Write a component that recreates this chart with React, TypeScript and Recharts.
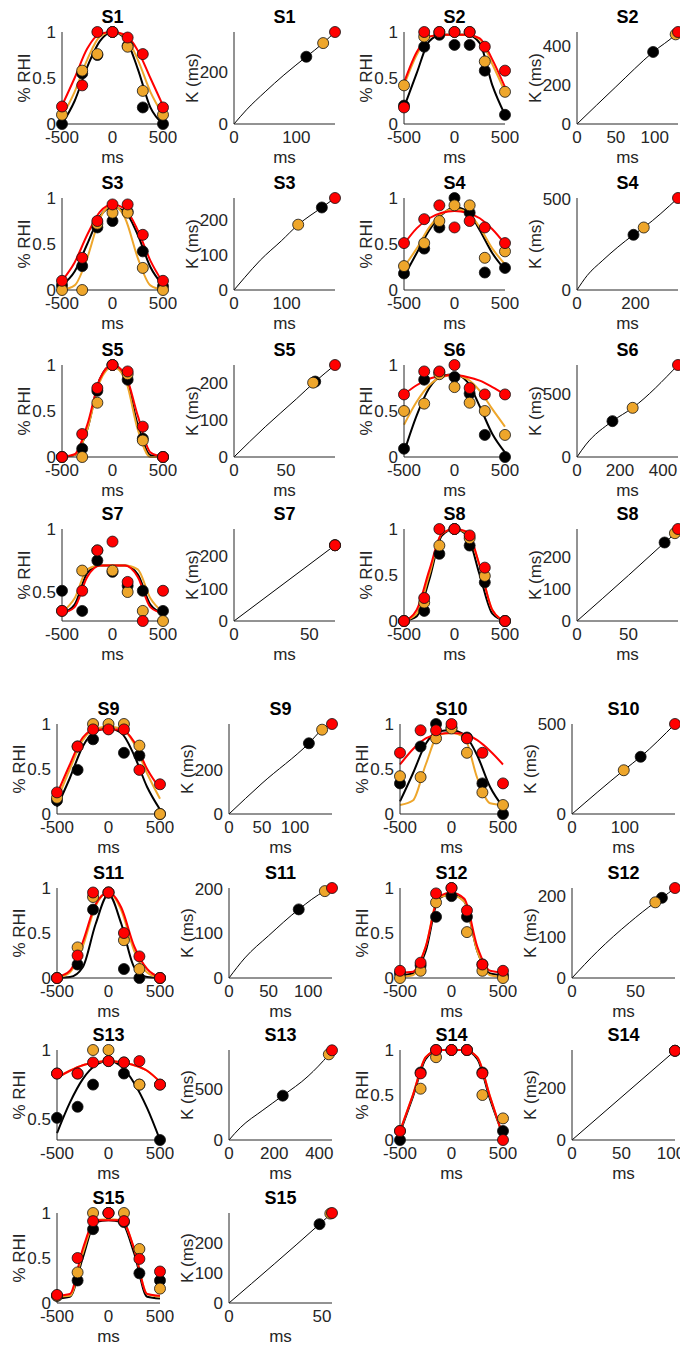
import { ComposedChart, Line, Scatter, XAxis, YAxis } from 'recharts';

// stimulus offsets (ms) where the dots sit, and where the fitted curves were read
const dotX = [-500, -300, -150, 0, 150, 300, 500];
const fitX = [-500, -375, -250, -125, 0, 125, 250, 375, 500];

const subjects = ['S1', 'S2', 'S3', 'S4', 'S5', 'S6', 'S7', 'S8', 'S9', 'S10', 'S11', 'S12', 'S13', 'S14', 'S15'];

// % RHI dots, one row per subject
const blackDots = [
  [0, 0.55, 0.75, 1, 0.85, 0.18, 0],
  [0.2, 0.84, 0.97, 0.86, 0.86, 0.58, 0.1],
  [0.05, 0.26, 0.68, 0.75, 0.85, 0.42, 0.04],
  [0.18, 0.45, 0.68, 1.0, 0.84, 0.19, 0.24],
  [0, 0.09, 0.72, 1, 0.84, 0.2, 0],
  [0.09, 0.84, 0.92, 0.87, 0.69, 0.24, 0],
  [0.51, 0.35, 0.75, 0.66, 0.55, 0.51, 0.35],
  [0, 0.11, 0.73, 1, 0.82, 0.42, 0],
  [0.15, 0.49, 0.83, 0.95, 0.68, 0.65, 0],
  [0.34, 0.75, 1, 0.96, 0.85, 0.34, 0],
  [0, 0.15, 0.76, 0.95, 0.1, 0, 0],
  [0.05, 0.14, 0.68, 0.91, 0.68, 0.15, 0.03],
  [0.51, 0.59, 0.75, 0.92, 0.83, 0.75, 0.35],
  [0, 0.75, 1, 1, 1, 0.75, 0.1],
  [0.08, 0.25, 0.82, 1, 0.9, 0.33, 0.25],
];
const orangeDots = [
  [0.1, 0.58, 0.76, 1, 0.84, 0.36, 0.1],
  [0.42, 0.95, 1, 1, 1, 0.68, 0.35],
  [0, 0, 0.72, 0.84, 0.84, 0.24, 0],
  [0.26, 0.51, 0.75, 0.92, 0.92, 0.35, 0.42],
  [0, 0, 0.59, 1, 0.9, 0.18, 0],
  [0.5, 0.58, 0.9, 0.76, 0.59, 0.5, 0.24],
  [0.35, 0.67, 0.83, 0.67, 0.5, 0.35, 0.27],
  [0, 0.2, 0.82, 1, 0.9, 0.49, 0],
  [0.18, 0.75, 1, 1, 1, 0.76, 0],
  [0.42, 0.41, 0.84, 0.95, 0.68, 0.24, 0.1],
  [0, 0.34, 0.9, 0.95, 0.42, 0.1, 0],
  [0, 0.08, 0.84, 1, 0.51, 0.08, 0],
  [0.83, 0.83, 1, 1, 0.91, 0.75, 0.75],
  [0.1, 0.57, 0.92, 1, 1, 0.5, 0.24],
  [0.08, 0.34, 1, 1, 1, 0.6, 0.16],
];
const redDots = [
  [0.19, 0.42, 1, 1, 0.94, 0.76, 0.18],
  [0.18, 1, 1, 1, 1, 0.84, 0.58],
  [0.1, 0.35, 0.75, 0.93, 0.93, 0.6, 0.1],
  [0.51, 0.77, 0.92, 0.68, 0.75, 0.68, 0.51],
  [0, 0.25, 0.75, 1, 0.93, 0.33, 0],
  [0.68, 0.93, 0.93, 1, 0.75, 0.68, 0.68],
  [0.35, 0.51, 0.83, 0.9, 0.58, 0.27, 0.51],
  [0, 0.25, 1, 1, 0.93, 0.58, 0],
  [0.24, 0.75, 0.94, 0.94, 0.94, 0.49, 0.33],
  [0.68, 0.93, 0.93, 1, 0.84, 0.68, 0.34],
  [0, 0.25, 0.95, 0.95, 0.5, 0.24, 0],
  [0.08, 0.17, 0.94, 1, 0.75, 0.15, 0.08],
  [0.83, 0.83, 0.91, 0.92, 0.91, 0.92, 0.75],
  [0.1, 0.74, 1, 1, 1, 0.74, 0],
  [0.09, 0.5, 0.91, 1, 0.91, 0.49, 0.35],
];

// fitted curves, read at fitX
const blackFit = [
  [0, 0.25, 0.62, 0.9, 1, 0.93, 0.6, 0.18, 0],
  [0.18, 0.55, 0.9, 0.97, 0.97, 0.97, 0.88, 0.42, 0.1],
  [0.05, 0.2, 0.5, 0.8, 0.9, 0.85, 0.6, 0.25, 0.05],
  [0.15, 0.4, 0.65, 0.82, 0.9, 0.86, 0.65, 0.4, 0.22],
  [0, 0.02, 0.3, 0.85, 1, 0.88, 0.35, 0.02, 0],
  [0.05, 0.45, 0.75, 0.88, 0.9, 0.82, 0.55, 0.25, 0.05],
  [0.33, 0.4, 0.65, 0.71, 0.71, 0.71, 0.64, 0.4, 0.33],
  [0, 0.05, 0.45, 0.93, 1, 0.93, 0.5, 0.08, 0],
  [0.08, 0.4, 0.75, 0.92, 0.95, 0.9, 0.65, 0.3, 0.05],
  [0.14, 0.45, 0.78, 0.92, 0.93, 0.88, 0.65, 0.3, 0.08],
  [0, 0.01, 0.12, 0.6, 0.93, 0.6, 0.12, 0.01, 0],
  [0.03, 0.05, 0.3, 0.88, 0.93, 0.85, 0.3, 0.05, 0.03],
  [0.4, 0.62, 0.79, 0.89, 0.92, 0.88, 0.76, 0.58, 0.35],
  [0.08, 0.48, 0.9, 1, 1, 1, 0.9, 0.45, 0.05],
  [0.05, 0.07, 0.5, 0.9, 0.92, 0.9, 0.55, 0.07, 0.05],
];
const orangeFit = [
  [0.08, 0.35, 0.7, 0.95, 1, 0.95, 0.7, 0.35, 0.1],
  [0.42, 0.75, 0.95, 0.97, 0.97, 0.97, 0.92, 0.65, 0.35],
  [0, 0.05, 0.35, 0.78, 0.92, 0.78, 0.35, 0.05, 0],
  [0.25, 0.45, 0.68, 0.83, 0.88, 0.85, 0.68, 0.45, 0.28],
  [0, 0.02, 0.3, 0.82, 0.98, 0.85, 0.3, 0, 0],
  [0.35, 0.6, 0.78, 0.87, 0.89, 0.85, 0.72, 0.52, 0.33],
  [0.34, 0.45, 0.68, 0.71, 0.71, 0.71, 0.68, 0.45, 0.34],
  [0, 0.08, 0.5, 0.95, 1, 0.95, 0.6, 0.12, 0],
  [0.15, 0.5, 0.82, 0.95, 0.97, 0.95, 0.78, 0.45, 0.17],
  [0.1, 0.15, 0.55, 0.88, 0.9, 0.85, 0.4, 0.12, 0.1],
  [0, 0.06, 0.35, 0.8, 0.95, 0.75, 0.3, 0.06, 0],
  [0.01, 0.03, 0.35, 0.9, 0.92, 0.85, 0.3, 0.03, 0.01],
  [0.8, 0.85, 0.89, 0.91, 0.92, 0.91, 0.89, 0.85, 0.77],
  [0.1, 0.5, 0.92, 1, 1, 1, 0.92, 0.48, 0.04],
  [0.07, 0.08, 0.55, 0.92, 0.93, 0.92, 0.6, 0.1, 0.07],
];
const redFit = [
  [0.2, 0.5, 0.82, 0.98, 1, 0.97, 0.8, 0.5, 0.2],
  [0.45, 0.78, 0.95, 0.97, 0.97, 0.97, 0.93, 0.7, 0.4],
  [0.1, 0.3, 0.6, 0.85, 0.93, 0.88, 0.65, 0.32, 0.08],
  [0.5, 0.67, 0.78, 0.84, 0.86, 0.84, 0.78, 0.66, 0.5],
  [0, 0.03, 0.35, 0.85, 1, 0.9, 0.45, 0.05, 0],
  [0.68, 0.78, 0.85, 0.88, 0.89, 0.87, 0.83, 0.76, 0.68],
  [0.33, 0.38, 0.62, 0.71, 0.71, 0.71, 0.62, 0.38, 0.33],
  [0, 0.12, 0.55, 0.95, 1, 0.97, 0.6, 0.12, 0],
  [0.22, 0.55, 0.85, 0.94, 0.94, 0.94, 0.8, 0.5, 0.28],
  [0.55, 0.72, 0.84, 0.89, 0.9, 0.89, 0.82, 0.7, 0.55],
  [0.01, 0.08, 0.4, 0.82, 0.95, 0.78, 0.35, 0.1, 0.01],
  [0.06, 0.07, 0.35, 0.9, 0.95, 0.88, 0.35, 0.08, 0.06],
  [0.8, 0.85, 0.89, 0.91, 0.92, 0.91, 0.89, 0.85, 0.77],
  [0.1, 0.5, 0.92, 1, 1, 1, 0.92, 0.48, 0.04],
  [0.08, 0.1, 0.6, 0.92, 0.92, 0.92, 0.6, 0.1, 0.08],
];

// lower y limit of each % RHI panel
const rhiLow = [0, 0, 0, 0, 0, 0, 0.27, 0, 0, 0, 0, 0, 0.35, 0, 0];

// K (ms) vs ms: [x, y] per subject
const kBlack = [
  [116, 261], [98, 368], [167, 235], [193, 303], [78, 205], [165, 283], [67, 233], [85, 244],
  [121, 323], [130, 318], [88, 154], [70.7, 196], [238, 431], [104, 346], [48.7, 261],
];
const kOrange = [
  [143, 314], [127, 458], [122, 186], [228, 343], [76, 202], [259, 388], [67, 233], [95, 273],
  [141, 385], [98, 243], [121, 195], [65.5, 185], [442, 833], [104, 346], [54.5, 296],
];
const kRed = [
  [162, 357], [130, 470], [192, 262], [345, 505], [97, 250], [470, 726], [67, 233], [98, 286],
  [156, 411], [195, 500], [130, 202], [81, 220], [456, 872], [104, 346], [55.4, 298],
];
const kLine = [
  [[0, 0], [20, 55], [50, 125], [80, 190], [116, 261], [143, 314], [162, 357]],
  [[0, 0], [50, 190], [98, 368], [127, 458], [130, 470]],
  [[0, 0], [20, 35], [50, 85], [90, 140], [122, 186], [167, 235], [192, 262]],
  [[0, 0], [35, 80], [86, 160], [193, 303], [228, 343], [345, 505]],
  [[0, 0], [30, 82], [60, 158], [78, 205], [97, 250]],
  [[0, 0], [40, 95], [165, 283], [259, 388], [470, 726]],
  [[0, 0], [67, 233]],
  [[0, 0], [50, 142], [85, 244], [95, 273], [98, 286]],
  [[0, 0], [50, 140], [121, 323], [141, 385], [156, 411]],
  [[0, 0], [98, 243], [130, 318], [195, 500]],
  [[0, 0], [20, 45], [50, 95], [88, 154], [121, 195], [130, 202]],
  [[0, 0], [20, 65], [45, 135], [65.5, 185], [70.7, 196], [81, 220]],
  [[0, 0], [50, 120], [150, 290], [238, 431], [350, 620], [442, 833], [456, 872]],
  [[0, 0], [104, 346]],
  [[0, 0], [48.7, 261], [55.4, 298]],
];
const kMax = [
  [162, 357], [130, 470], [192, 262], [345, 505], [97, 250], [470, 726], [67, 283], [98, 286],
  [156, 411], [195, 500], [130, 202], [81, 220], [456, 875], [104, 349], [55.4, 298],
];
const kXTicks = [
  [0, 100], [0, 50, 100], [0, 100], [0, 200], [0, 50], [0, 200, 400], [0, 50], [0, 50],
  [0, 50, 100], [0, 100], [0, 50, 100], [0, 50], [0, 200, 400], [0, 50, 100], [0, 50],
];
const kYTicks = [
  [0, 200], [0, 200, 400], [0, 100, 200], [0, 500], [0, 100, 200], [0, 500], [0, 100, 200], [0, 100, 200],
  [0, 200], [0, 500], [0, 100, 200], [0, 100, 200], [0, 500], [0, 200], [0, 100, 200],
];

const INK = '#262626';
const FONT = '"Liberation Sans", Arial, Helvetica, sans-serif';
const BLACK = '#000000';
const ORANGE = '#EEA62B';
const RED = '#FF0000';

const YW = 40;
const MT = 8;
const MR = 14;
const XH = 26;

const ROW_TOPS = [32, 198, 365, 529, 724, 888, 1050, 1213];

const pts = (xs: number[], ys: number[]) => xs.map((x, i) => ({ x, y: ys[i] }));
const pairPts = (arr: number[][]) => arr.map(([x, y]) => ({ x, y }));

const dot = (fill: string) => (p: any) => (
  <circle cx={p.cx} cy={p.cy} r={5.5} fill={fill} stroke="#111" strokeWidth={0.8} />
);

const tickStyle = { fill: INK, fontSize: 17, fontFamily: FONT };

function Text({ x, y, children, bold = false, rotate = false }: any) {
  return (
    <div
      style={{
        position: 'absolute',
        left: x - 60,
        top: y - 11,
        width: 120,
        height: 22,
        lineHeight: '22px',
        textAlign: 'center',
        fontFamily: FONT,
        fontSize: bold ? 18 : 17,
        fontWeight: bold ? 'bold' : 'normal',
        color: bold ? '#000' : INK,
        transform: rotate ? 'rotate(-90deg)' : undefined,
        whiteSpace: 'nowrap',
      }}
    >
      {children}
    </div>
  );
}

function RhiPanel({ i, left, top, w, h }: any) {
  const low = rhiLow[i];
  const yTicks = low > 0 ? [0.5, 1] : [0, 0.5, 1];
  return (
    <>
      <div style={{ position: 'absolute', left: left - YW, top: top - MT }}>
        <ComposedChart
          width={YW + w + MR}
          height={MT + h + XH}
          margin={{ top: MT, right: MR, bottom: 0, left: 0 }}
        >
          <XAxis
            type="number"
            dataKey="x"
            domain={[-500, 500]}
            ticks={[-500, 0, 500]}
            height={XH}
            tickLine={false}
            tickSize={5}
            axisLine={{ stroke: INK }}
            tick={tickStyle}
            interval={0}
          />
          <YAxis
            type="number"
            dataKey="y"
            domain={[low, 1]}
            ticks={yTicks}
            width={YW}
            tickLine={false}
            tickSize={4}
            axisLine={{ stroke: INK }}
            tick={tickStyle}
            interval={0}
          />
          <Line data={pts(fitX, blackFit[i])} dataKey="y" type="monotone" stroke={BLACK} strokeWidth={2} dot={false} isAnimationActive={false} />
          <Line data={pts(fitX, orangeFit[i])} dataKey="y" type="monotone" stroke={ORANGE} strokeWidth={2} dot={false} isAnimationActive={false} />
          <Line data={pts(fitX, redFit[i])} dataKey="y" type="monotone" stroke={RED} strokeWidth={2} dot={false} isAnimationActive={false} />
          <Scatter data={pts(dotX, blackDots[i])} shape={dot(BLACK)} isAnimationActive={false} />
          <Scatter data={pts(dotX, orangeDots[i])} shape={dot(ORANGE)} isAnimationActive={false} />
          <Scatter data={pts(dotX, redDots[i])} shape={dot(RED)} isAnimationActive={false} />
        </ComposedChart>
      </div>
      <Text x={left + w / 2} y={top - 15} bold>{subjects[i]}</Text>
      <Text x={left + w / 2} y={top + h + 34}>ms</Text>
      <Text x={left - 37} y={top + h / 2} rotate>% RHI</Text>
    </>
  );
}

function KPanel({ i, left, top, w, h }: any) {
  return (
    <>
      <div style={{ position: 'absolute', left: left - YW, top: top - MT }}>
        <ComposedChart
          width={YW + w + MR}
          height={MT + h + XH}
          margin={{ top: MT, right: MR, bottom: 0, left: 0 }}
        >
          <XAxis
            type="number"
            dataKey="x"
            domain={[0, kMax[i][0]]}
            ticks={kXTicks[i]}
            height={XH}
            tickLine={false}
            tickSize={5}
            axisLine={{ stroke: INK }}
            tick={tickStyle}
            interval={0}
          />
          <YAxis
            type="number"
            dataKey="y"
            domain={[0, kMax[i][1]]}
            ticks={kYTicks[i]}
            width={YW}
            tickLine={false}
            tickSize={4}
            axisLine={{ stroke: INK }}
            tick={tickStyle}
            interval={0}
          />
          <Line data={pairPts(kLine[i])} dataKey="y" type="monotone" stroke={BLACK} strokeWidth={1} dot={false} isAnimationActive={false} />
          <Scatter data={pairPts([kBlack[i]])} shape={dot(BLACK)} isAnimationActive={false} />
          <Scatter data={pairPts([kOrange[i]])} shape={dot(ORANGE)} isAnimationActive={false} />
          <Scatter data={pairPts([kRed[i]])} shape={dot(RED)} isAnimationActive={false} />
        </ComposedChart>
      </div>
      <Text x={left + w / 2} y={top - 15} bold>{subjects[i]}</Text>
      <Text x={left + w / 2} y={top + h + 34}>ms</Text>
      <Text x={left - 41} y={top + h / 2} rotate>K (ms)</Text>
    </>
  );
}

export default function App() {
  return (
    <div
      style={{
        position: 'absolute',
        left: 0,
        top: 0,
        width: 680,
        height: 1351,
        overflow: 'hidden',
        background: '#fff',
      }}
    >
      {subjects.map((_, i) => {
        const row = Math.floor(i / 2);
        const pair = i % 2;
        const lower = row >= 4;
        const top = ROW_TOPS[row];
        const h = lower ? 90 : 92;
        const w = lower ? 103 : 101;
        const rhiLeft = (lower ? [57, 400] : [62, 404])[pair];
        const kLeft = (lower ? [229, 572] : [234, 577])[pair];
        return (
          <div key={i}>
            <RhiPanel i={i} left={rhiLeft} top={top} w={w} h={h} />
            <KPanel i={i} left={kLeft} top={top} w={w} h={h} />
          </div>
        );
      })}
    </div>
  );
}
